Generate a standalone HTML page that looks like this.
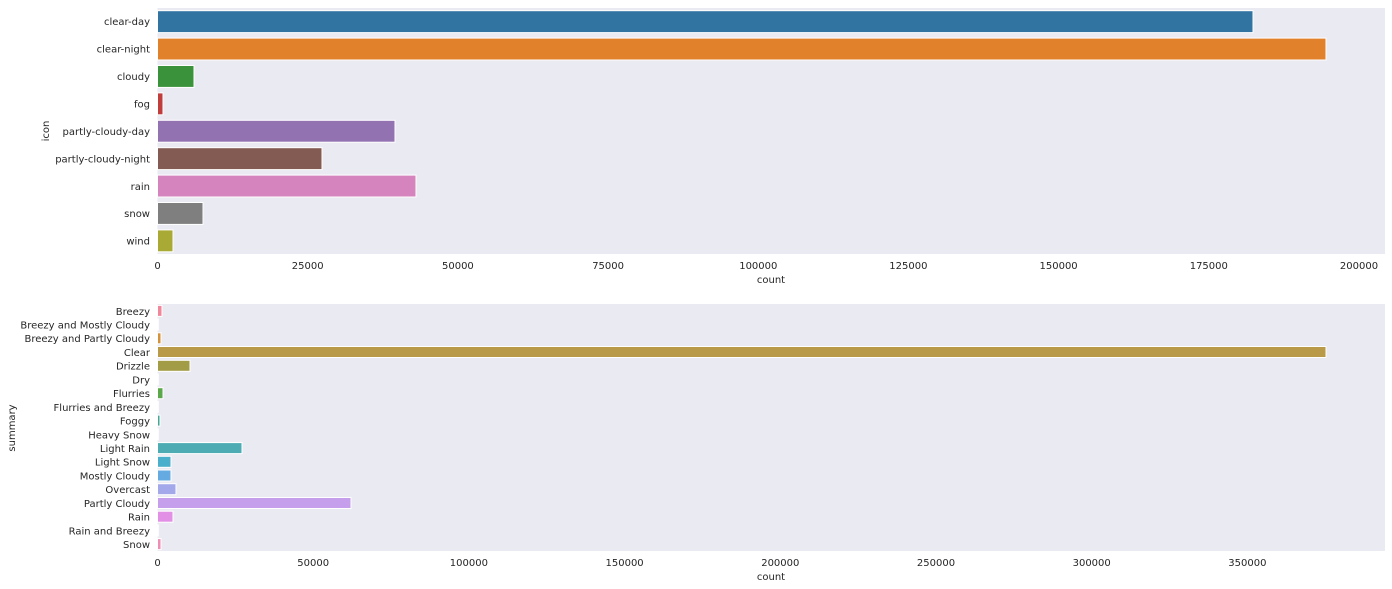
<!DOCTYPE html>
<html><head><meta charset="utf-8"><style>
html,body{margin:0;padding:0;background:#fff;width:1392px;height:589px;overflow:hidden}
svg text{font-family:"DejaVu Sans","Liberation Sans",sans-serif;font-size:10px;fill:#262626}
</style></head><body>
<svg width="1392" height="589" xmlns="http://www.w3.org/2000/svg">
<rect x="157.5" y="8" width="1227.5" height="246" fill="#eaeaf2"/>
<g stroke="#fff" stroke-width="1">
<rect x="157.5" y="10.7" width="1095.5" height="21.9" fill="#3274a1"/>
<rect x="157.5" y="38.1" width="1168.5" height="21.9" fill="#e1812c"/>
<rect x="157.5" y="65.5" width="36.5" height="21.9" fill="#3a923a"/>
<rect x="157.5" y="92.9" width="5.5" height="21.9" fill="#c03d3e"/>
<rect x="157.5" y="120.3" width="237.5" height="21.9" fill="#9372b2"/>
<rect x="157.5" y="147.7" width="164.5" height="21.9" fill="#845b53"/>
<rect x="157.5" y="175.1" width="258.5" height="21.9" fill="#d684bd"/>
<rect x="157.5" y="202.5" width="45.5" height="21.9" fill="#7f7f7f"/>
<rect x="157.5" y="229.9" width="15.5" height="21.9" fill="#a9aa35"/>
</g>
<g text-anchor="end">
<text x="150" y="25">clear-day</text>
<text x="150" y="52.5">clear-night</text>
<text x="150" y="80">cloudy</text>
<text x="150" y="107.5">fog</text>
<text x="150" y="135">partly-cloudy-day</text>
<text x="150" y="162.5">partly-cloudy-night</text>
<text x="150" y="190">rain</text>
<text x="150" y="217">snow</text>
<text x="150" y="244.5">wind</text>
</g>
<text transform="translate(49,131) rotate(-90)" text-anchor="middle">icon</text>
<g text-anchor="middle">
<text x="157.5" y="269">0</text>
<text x="307.7" y="269">25000</text>
<text x="457.9" y="269">50000</text>
<text x="608.1" y="269">75000</text>
<text x="758.3" y="269">100000</text>
<text x="908.4" y="269">125000</text>
<text x="1058.6" y="269">150000</text>
<text x="1208.8" y="269">175000</text>
<text x="1359" y="269">200000</text>
<text x="771" y="283">count</text>
</g>

<rect x="157.5" y="304" width="1227.5" height="247" fill="#eaeaf2"/>
<g stroke="#fff" stroke-width="1">
<rect x="157.5" y="305.4" width="4.5" height="11" fill="#f0879a"/>
<rect x="157.5" y="319.1" width="0.8" height="11" fill="#e98b6e"/>
<rect x="157.5" y="332.8" width="3.5" height="11" fill="#d6923a"/>
<rect x="157.5" y="346.5" width="1168.5" height="11" fill="#b89a48"/>
<rect x="157.5" y="360.3" width="32.5" height="11" fill="#a29c46"/>
<rect x="157.5" y="374" width="0.8" height="11" fill="#8ca346"/>
<rect x="157.5" y="387.7" width="5.5" height="11" fill="#5ba84b"/>
<rect x="157.5" y="401.4" width="0.8" height="11" fill="#4aa77f"/>
<rect x="157.5" y="415.1" width="2.5" height="11" fill="#44a695"/>
<rect x="157.5" y="428.9" width="0.8" height="11" fill="#47a5a5"/>
<rect x="157.5" y="442.6" width="84.5" height="11" fill="#4dacb3"/>
<rect x="157.5" y="456.3" width="13.5" height="11" fill="#4aafca"/>
<rect x="157.5" y="470" width="13.5" height="11" fill="#65abe2"/>
<rect x="157.5" y="483.7" width="18.5" height="11" fill="#a3a8ea"/>
<rect x="157.5" y="497.5" width="193.5" height="11" fill="#c69fec"/>
<rect x="157.5" y="511.2" width="15.5" height="11" fill="#e190e5"/>
<rect x="157.5" y="524.9" width="0.8" height="11" fill="#ec8ccd"/>
<rect x="157.5" y="538.6" width="3.5" height="11" fill="#ee8eb5"/>
</g>
<g text-anchor="end">
<text x="150" y="315">Breezy</text>
<text x="150" y="328.5">Breezy and Mostly Cloudy</text>
<text x="150" y="342.2">Breezy and Partly Cloudy</text>
<text x="150" y="356">Clear</text>
<text x="150" y="369.7">Drizzle</text>
<text x="150" y="383.4">Dry</text>
<text x="150" y="397.1">Flurries</text>
<text x="150" y="410.8">Flurries and Breezy</text>
<text x="150" y="424.6">Foggy</text>
<text x="150" y="438.3">Heavy Snow</text>
<text x="150" y="452">Light Rain</text>
<text x="150" y="465.7">Light Snow</text>
<text x="150" y="479.4">Mostly Cloudy</text>
<text x="150" y="493.2">Overcast</text>
<text x="150" y="506.9">Partly Cloudy</text>
<text x="150" y="520.6">Rain</text>
<text x="150" y="534.3">Rain and Breezy</text>
<text x="150" y="548">Snow</text>
</g>
<text transform="translate(15,428) rotate(-90)" text-anchor="middle">summary</text>
<g text-anchor="middle">
<text x="157.5" y="566">0</text>
<text x="313.2" y="566">50000</text>
<text x="468.9" y="566">100000</text>
<text x="624.6" y="566">150000</text>
<text x="780.3" y="566">200000</text>
<text x="936" y="566">250000</text>
<text x="1091.7" y="566">300000</text>
<text x="1247.4" y="566">350000</text>
<text x="771" y="580">count</text>
</g>
</svg>
</body></html>
